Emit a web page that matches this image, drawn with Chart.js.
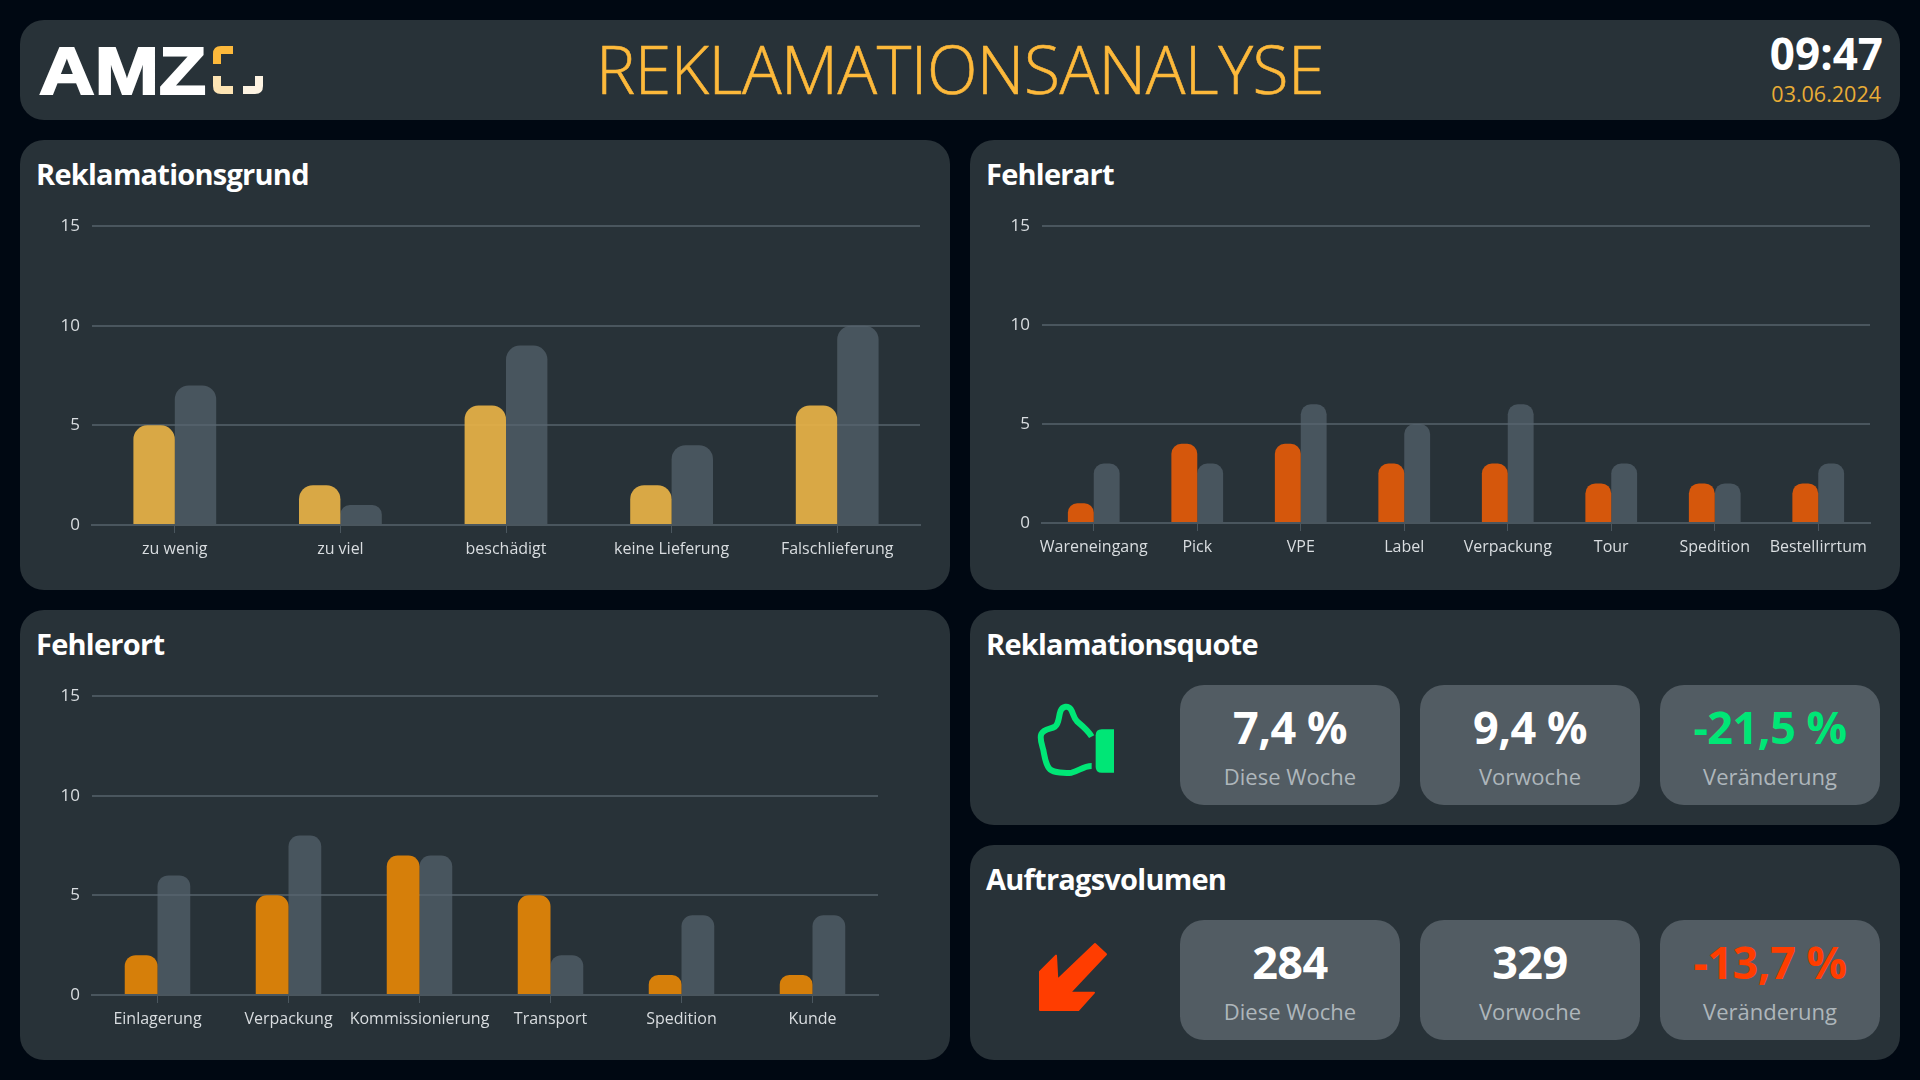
<!DOCTYPE html>
<html lang="de">
<head>
<meta charset="utf-8">
<title>Reklamationsanalyse</title>
<script src="https://cdn.jsdelivr.net/npm/chart.js@4"></script>
<style>
    html, body { margin: 0; width: 1920px; height: 1080px; background: #000812; overflow: hidden; font-family: "Open Sans", sans-serif; }
    .panel { position: absolute; background: #283238; border-radius: 24px; }
    .title { position: absolute; left: 16px; top: 14px; color: #fff; font-size: 29px; font-weight: 700; letter-spacing: -0.75px; white-space: nowrap; }
    canvas { position: absolute; }
    #head-title { position: absolute; left: 0; width: 1880px; top: 3px; text-align: center; color: #fdb93b; font-size: 66px; font-weight: 300; letter-spacing: -0.5px; -webkit-text-stroke: 0.6px #fdb93b; white-space: nowrap; }
    #clock { position: absolute; right: 17px; top: 6px; color: #fff; font-size: 44px; font-weight: 700; line-height: 54px; }
    #date { position: absolute; right: 19px; top: 60px; color: #e8ad36; font-size: 21.5px; line-height: 28px; }
    .box { position: absolute; width: 220px; height: 120px; background: #525c63; border-radius: 24px; text-align: center; }
    .box .val { position: absolute; left: 0; right: 0; top: 10px; font-size: 45px; font-weight: 700; letter-spacing: -0.5px; line-height: 64px; color: #fff; }
    .box .lab { position: absolute; left: 0; right: 0; top: 75px; font-size: 22px; line-height: 32px; color: #aeb6bb; }
    svg { position: absolute; }
</style>
</head>
<body>

<div class="panel" style="left:20px;top:20px;width:1880px;height:100px">
    <div id="head-title">REKLAMATIONSANALYSE</div>
    <div id="clock">09:47</div>
    <div id="date">03.06.2024</div>
</div>
<svg style="left:30px;top:30px" width="250" height="80" viewBox="0 0 250 80">
    <text x="9" y="64" font-family="Liberation Sans" font-weight="700" font-size="66" fill="#fff" stroke="#fff" stroke-width="2" textLength="167" lengthAdjust="spacingAndGlyphs">AMZ</text>
    <path d="M187 34V24Q187 20 191 20H203" fill="none" stroke="#fdb93b" stroke-width="8"/>
    <path d="M187 46V56Q187 60 191 60H203" fill="none" stroke="#fde4b4" stroke-width="8"/>
    <path d="M229 46V56Q229 60 225 60H213" fill="none" stroke="#fdf3e2" stroke-width="8"/>
</svg>

<div class="panel" style="left:20px;top:140px;width:930px;height:450px">
    <div class="title">Reklamationsgrund</div>
</div>
<canvas id="grundChart" style="left:20px;top:190px"></canvas>

<div class="panel" style="left:970px;top:140px;width:930px;height:450px">
    <div class="title">Fehlerart</div>
</div>
<canvas id="artChart" style="left:970px;top:190px"></canvas>

<div class="panel" style="left:20px;top:610px;width:930px;height:450px">
    <div class="title">Fehlerort</div>
</div>
<canvas id="ortChart" style="left:20px;top:660px"></canvas>

<div class="panel" style="left:970px;top:610px;width:930px;height:215px">
    <div class="title">Reklamationsquote</div>
</div>
<svg style="left:1020px;top:690px" width="120" height="100" viewBox="0 0 360 300">
    <path d="M215 140C205 122 190 110 172 95C160 84 160 68 152 57C144 46 128 48 122 62C115 80 118 100 105 110C92 118 72 116 64 132C58 145 66 165 70 180C74 200 76 225 90 238C102 248 135 250 155 248C175 244 190 228 215 228" fill="none" stroke="#00e676" stroke-width="18" stroke-linecap="butt"/>
    <path d="M245 118H282V248H245Q227 248 227 230V136Q227 118 245 118Z" fill="#00e676"/>
</svg>
<div class="box" style="left:1180px;top:685px"><div class="val">7,4 %</div><div class="lab">Diese Woche</div></div>
<div class="box" style="left:1420px;top:685px"><div class="val">9,4 %</div><div class="lab">Vorwoche</div></div>
<div class="box" style="left:1660px;top:685px"><div class="val" style="color:#00e676">-21,5 %</div><div class="lab">Veränderung</div></div>

<div class="panel" style="left:970px;top:845px;width:930px;height:215px">
    <div class="title">Auftragsvolumen</div>
</div>
<svg style="left:1020px;top:925px" width="120" height="100" viewBox="0 0 360 300">
    <path d="M225 57L258 88L150 203H222L175 255H60V140L108 92L112 165Z" fill="#ff3d00" stroke="#ff3d00" stroke-width="6" stroke-linejoin="round"/>
</svg>
<div class="box" style="left:1180px;top:920px"><div class="val">284</div><div class="lab">Diese Woche</div></div>
<div class="box" style="left:1420px;top:920px"><div class="val">329</div><div class="lab">Vorwoche</div></div>
<div class="box" style="left:1660px;top:920px"><div class="val" style="color:#ff3d00">-13,7 %</div><div class="lab">Veränderung</div></div>

<script>
// Chart data
const grundLabels = ["zu wenig", "zu viel", "beschädigt", "keine Lieferung", "Falschlieferung"];
const grundAktuell = [5, 2, 6, 2, 6];
const grundVorwoche = [7, 1, 9, 4, 10];

const artLabels = ["Wareneingang", "Pick", "VPE", "Label", "Verpackung", "Tour", "Spedition", "Bestellirrtum"];
const artAktuell = [1, 4, 4, 3, 3, 2, 2, 2];
const artVorwoche = [3, 3, 6, 5, 6, 3, 2, 3];

const ortLabels = ["Einlagerung", "Verpackung", "Kommissionierung", "Transport", "Spedition", "Kunde"];
const ortAktuell = [2, 5, 7, 5, 1, 1];
const ortVorwoche = [6, 8, 7, 2, 4, 4];

const yTicks = [0, 5, 10, 15];

const gridColor = "#4a565e";
const tickColor = "#d9dde0";
const fontFamily = "'Open Sans', sans-serif";

// Draw one grouped bar chart
function drawBars(id, labels, current, previous, color, radius, width, height, paddingRight, paddingTop, xHeight) {
    const canvas = document.getElementById(id);
    canvas.width = width;
    canvas.height = height;
    canvas.style.width = width + "px";
    canvas.style.height = height + "px";
    return new Chart(canvas.getContext("2d"), {
        type: "bar",
        data: {
            labels: labels,
            datasets: [
                { label: "Diese Woche", data: current, backgroundColor: color },
                { label: "Vorwoche", data: previous, backgroundColor: "rgba(88,102,112,0.68)" },
            ],
        },
        options: {
            responsive: false,
            animation: false,
            devicePixelRatio: 1,
            layout: { padding: { top: paddingTop, right: paddingRight, left: 0, bottom: 0 } },
            plugins: { legend: { display: false }, tooltip: { enabled: false } },
            datasets: {
                bar: {
                    categoryPercentage: 0.5,
                    barPercentage: 1,
                    borderRadius: { topLeft: radius, topRight: radius, bottomLeft: 0, bottomRight: 0 },
                    borderSkipped: false,
                },
            },
            scales: {
                x: {
                    afterFit: (scale) => { scale.height = xHeight; },
                    grid: { offset: false, drawOnChartArea: false, tickLength: 8, tickColor: gridColor, tickWidth: 1 },
                    border: { color: gridColor, width: 2 },
                    ticks: { color: tickColor, maxRotation: 0, autoSkip: false, padding: 7, font: { family: fontFamily, size: 16 } },
                },
                y: {
                    min: 0,
                    max: 15,
                    afterFit: (scale) => { scale.width = 72; },
                    afterBuildTicks: (scale) => { scale.ticks = yTicks.map((v) => ({ value: v })); },
                    grid: { color: gridColor, lineWidth: 2, drawTicks: false },
                    border: { display: false },
                    ticks: { color: tickColor, padding: 12, font: { family: fontFamily, size: 17 } },
                },
            },
        },
    });
}

drawBars("grundChart", grundLabels, grundAktuell, grundVorwoche, "rgba(232,178,70,0.92)", 14, 930, 390, 30, 36, 55);
drawBars("artChart", artLabels, artAktuell, artVorwoche, "#d5570c", 10, 930, 390, 30, 36, 57);
drawBars("ortChart", ortLabels, ortAktuell, ortVorwoche, "#d67f0a", 11, 930, 390, 72, 36, 55);
</script>
</body>
</html>
